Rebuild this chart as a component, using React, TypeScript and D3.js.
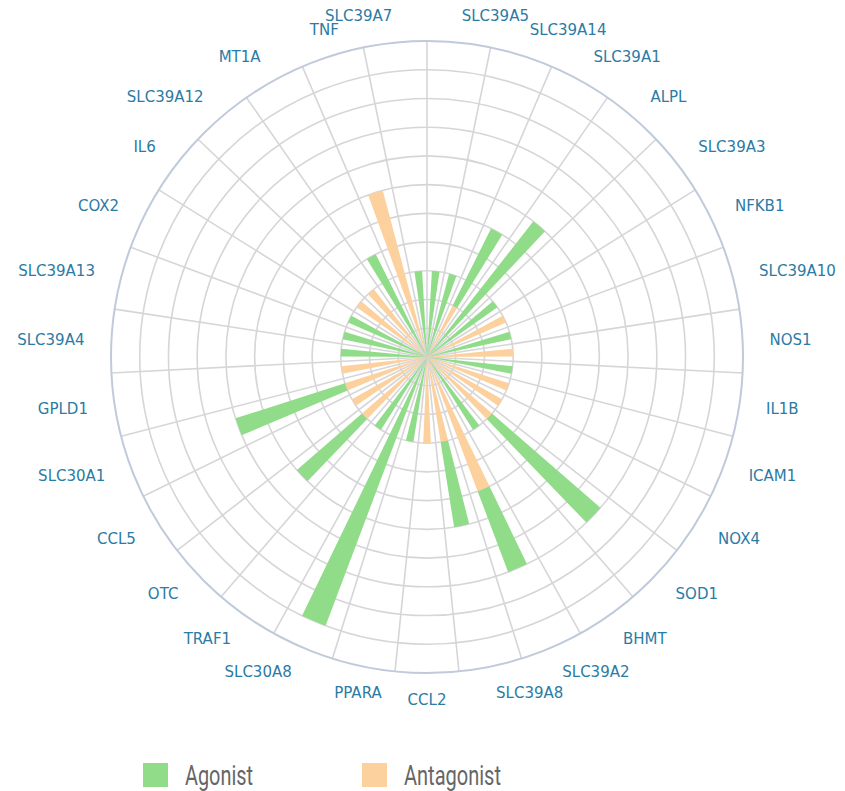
import { useEffect, useRef } from 'react';
import * as d3 from 'd3';

const genes = [
    "SLC39A5", "SLC39A14", "SLC39A1", "ALPL", "SLC39A3", "NFKB1", "SLC39A10", "NOS1",
    "IL1B", "ICAM1", "NOX4", "SOD1", "BHMT", "SLC39A2", "SLC39A8", "CCL2",
    "PPARA", "SLC30A8", "TRAF1", "OTC", "CCL5", "SLC30A1", "GPLD1", "SLC39A4",
    "SLC39A13", "COX2", "IL6", "SLC39A12", "MT1A", "TNF", "SLC39A7"
];

// inner part of each stack
const antagonist = [0, 0, 2, 0, 0, 3, 0, 3, 0, 3, 3, 3, 0, 5, 3, 3, 0, 0, 0, 3, 3, 3, 3, 0, 0, 0, 3, 3, 0, 6, 0];
// outer part of each stack
const agonist = [3, 3, 3, 6, 3, 0, 3, 0, 3, 0, 0, 5, 3, 3, 3, 0, 3, 10, 3, 3, 0, 4, 0, 3, 3, 3, 0, 0, 4, 0, 3];

const radiusTicks = [1, 2, 3, 4, 5, 6, 7, 8, 9, 10];
const radiusMax = 11;
const centeredLabels = ["CCL2", "PPARA", "TNF"];

const seriesNames = ["Agonist", "Antagonist"];
const green = "#90dc88";
const orange = "#fcd19d";

const PolarBars = () => {
    const ref = useRef<SVGSVGElement>(null);

    useEffect(() => {
        const svg = d3.select(ref.current);
        svg.selectAll("*").remove();

        const cx = 427, cy = 357, R = 316;
        const r = d3.scaleLinear().domain([0, radiusMax]).range([0, R]);
        const a = d3.scaleBand<string>().domain(genes).range([0, 2 * Math.PI]);
        const half = a.bandwidth() * 0.22;

        const g = svg.append("g").attr("transform", `translate(${cx},${cy})`);

        // rings
        g.selectAll("circle.ring")
            .data(radiusTicks)
            .enter().append("circle")
            .attr("r", d => r(d))
            .attr("fill", "none")
            .attr("stroke", "#d6d6d9")
            .attr("stroke-width", 1.6);

        // spokes on category boundaries
        g.selectAll("line.spoke")
            .data(genes)
            .enter().append("line")
            .attr("x1", 0).attr("y1", 0)
            .attr("x2", d => R * Math.sin(a(d)!))
            .attr("y2", d => -R * Math.cos(a(d)!))
            .attr("stroke", "#d6d6d9")
            .attr("stroke-width", 1.6);

        // stacked bars: antagonist inner, agonist outer
        const arc = d3.arc<any>();
        const stacks = genes.map((gene, i) => ({
            gene,
            parts: [
                { y0: 0, y1: antagonist[i], color: orange },
                { y0: antagonist[i], y1: antagonist[i] + agonist[i], color: green }
            ]
        }));

        stacks.forEach(s => {
            const mid = a(s.gene)! + a.bandwidth() / 2;
            s.parts.filter(p => p.y1 > p.y0).forEach(p => {
                g.append("path")
                    .attr("d", arc({
                        innerRadius: r(p.y0),
                        outerRadius: r(p.y1),
                        startAngle: mid - half,
                        endAngle: mid + half
                    }))
                    .attr("fill", p.color);
            });
        });

        // outer axis circle
        g.append("circle")
            .attr("r", r(radiusMax))
            .attr("fill", "none")
            .attr("stroke", "#bfcadb")
            .attr("stroke-width", 2);

        // category labels
        const rl = R + 27;
        g.selectAll("text.label")
            .data(genes)
            .enter().append("text")
            .attr("x", d => rl * Math.sin(a(d)! + a.bandwidth() / 2))
            .attr("y", d => -rl * Math.cos(a(d)! + a.bandwidth() / 2))
            .attr("dy", "0.35em")
            .attr("text-anchor", d => {
                const x = Math.sin(a(d)! + a.bandwidth() / 2);
                if (centeredLabels.includes(d)) return "middle";
                return x > 0 ? "start" : "end";
            })
            .style("font-family", "'DejaVu Sans', sans-serif")
            .style("font-size", "15px")
            .style("fill", "#2b7ba4")
            .text(d => d);

        // legend
        const legend = svg.append("g");
        const legendX = [143, 362];
        const legendW = [68, 97];
        seriesNames.forEach((name, i) => {
            legend.append("rect")
                .attr("x", legendX[i]).attr("y", 763)
                .attr("width", 25).attr("height", 24)
                .attr("fill", i === 0 ? green : orange);
            legend.append("text")
                .attr("x", legendX[i] + 42).attr("y", 785)
                .attr("textLength", legendW[i])
                .attr("lengthAdjust", "spacingAndGlyphs")
                .style("font-family", "Roboto, sans-serif")
                .style("font-size", "28px")
                .style("fill", "#666")
                .text(name);
        });
    }, []);

    return (
        <svg ref={ref} width={845} height={791}
            style={{ position: "absolute", left: 0, top: 0, background: "#fff" }} />
    );
};

export default function App() {
    return <PolarBars />;
}
